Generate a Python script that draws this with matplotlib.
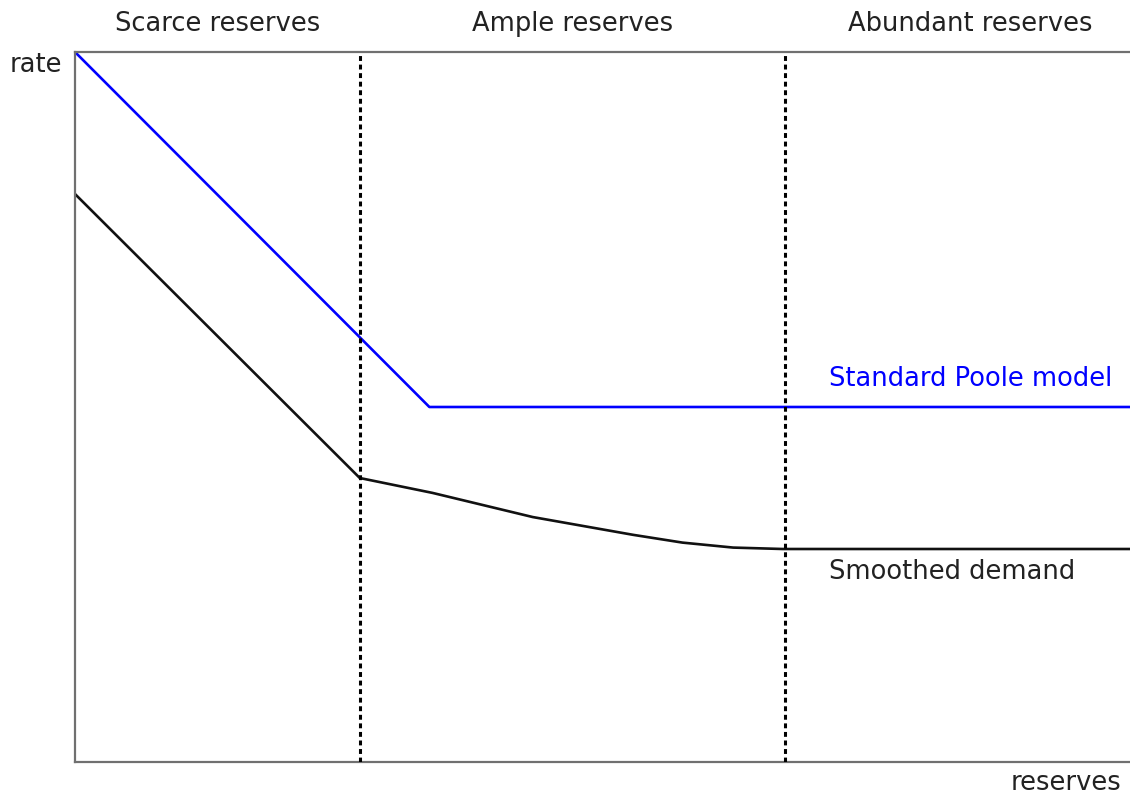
import numpy as np
import matplotlib.pyplot as plt

# regime boundaries and curves (abstract units: x 0..100, y 0..100)
regimes = ['Scarce reserves', 'Ample reserves', 'Abundant reserves']
bounds = [0, 27.0, 67.3, 102.4]

poole_x = [0, 33.6, 102.4]
poole_y = [100, 50, 50]

smooth_x = [0, 27.0, 33.9, 43.4, 52.9, 57.6, 62.4, 67.1, 102.4]
smooth_y = [80, 40.0, 37.9, 34.5, 32.0, 30.9, 30.2, 30.0, 30.0]

fig = plt.figure(figsize=(11.3, 8.01), dpi=100)
W, H = 1130, 801
ax = fig.add_axes([75 / W, (H - 762) / H, (1155 - 75) / W, (762 - 52) / H])
ax.set_xlim(bounds[0], bounds[-1])
ax.set_ylim(0, 100)

spine_col = '#707070'
for s in ['left', 'bottom', 'top']:
    ax.spines[s].set_color(spine_col)
    ax.spines[s].set_linewidth(1.6)
ax.spines['right'].set_visible(False)
ax.set_xticks([])
ax.set_yticks([])

for b in bounds[1:3]:
    ax.axvline(b, color='black', lw=2.2, linestyle=(0, (1.6, 1.2)), zorder=3)

ax.plot(poole_x, poole_y, color='#0000ff', lw=1.9, zorder=2)
ax.plot(smooth_x, smooth_y, color='#111111', lw=1.9, zorder=2)

fs = 18.5
for i, name in enumerate(regimes):
    cx = (bounds[i] + bounds[i + 1]) / 2
    ax.text(cx, 104.0, name, ha='center', va='center', fontsize=fs, color='#222222')

ax.text(-1.2, 98.2, 'rate', ha='right', va='center', fontsize=fs, color='#222222')
# keep the axis label just inside the figure edges
ax.text(99.2, -2.9, 'reserves', ha='right', va='center', fontsize=fs, color='#222222')
ax.text(71.5, 53.9, 'Standard Poole model', ha='left', va='center', fontsize=fs, color='#0000ff')
ax.text(71.5, 26.8, 'Smoothed demand', ha='left', va='center', fontsize=fs, color='#222222')

for t in ax.texts:
    t.set_clip_on(False)

fig.savefig('out.png', dpi=100)
